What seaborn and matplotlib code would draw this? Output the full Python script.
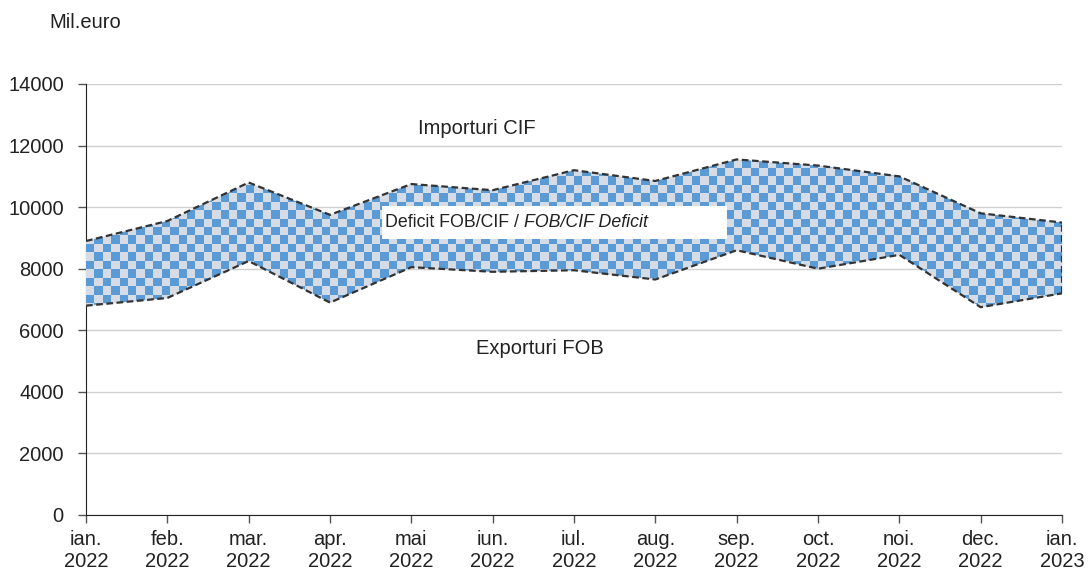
import matplotlib
matplotlib.use("Agg")
import matplotlib.pyplot as plt
import numpy as np
import pandas as pd
import seaborn as sns

months = ["ian.\n2022", "feb.\n2022", "mar.\n2022", "apr.\n2022", "mai\n2022", "iun.\n2022",
          "iul.\n2022", "aug.\n2022", "sep.\n2022", "oct.\n2022", "noi.\n2022", "dec.\n2022",
          "ian.\n2023"]
importuri_cif = [8900, 9550, 10800, 9750, 10750, 10550, 11200, 10850, 11550, 11350, 11000, 9800, 9500]
exporturi_fob = [6800, 7050, 8250, 6900, 8050, 7900, 7950, 7650, 8600, 8000, 8450, 6750, 7200]
y_ticks = [0, 2000, 4000, 6000, 8000, 10000, 12000, 14000]

df = pd.DataFrame({"idx": np.arange(len(months)), "imp": importuri_cif, "exp": exporturi_fob})

sns.set_style("white")
plt.rcParams["font.family"] = ["Liberation Sans", "DejaVu Sans"]

fig = plt.figure(figsize=(10.88, 5.72), dpi=100)
ax = fig.add_axes([86 / 1088, 57 / 572, 976 / 1088, 431 / 572])

# checkered band between exports and imports
band = ax.fill_between(df["idx"], df["exp"], df["imp"], color="#d6dce5", lw=0, zorder=2)
nx, ny = int(976 / 8.4), int(431 / 8.4)
checker = (np.add.outer(np.arange(ny), np.arange(nx)) % 2).astype(float)
cmap = matplotlib.colors.ListedColormap(["#d6dce5", "#5b9bd5"])
img = ax.imshow(checker, cmap=cmap, extent=(0, 12, 0, 14000), aspect="auto",
                interpolation="nearest", origin="upper", zorder=3)
img.set_clip_path(band.get_paths()[0], transform=ax.transData)

sns.lineplot(data=df, x="idx", y="imp", ax=ax, color="#333333", lw=1.6, zorder=4)
sns.lineplot(data=df, x="idx", y="exp", ax=ax, color="#333333", lw=1.6, zorder=4)
for ln in ax.lines:
    ln.set_dashes([3, 1.6])
ax.plot([12, 12], [exporturi_fob[-1], importuri_cif[-1]], color="#333333", lw=1.6,
        dashes=[3, 1.6], zorder=4)

ax.set_xlim(0, 12)
ax.set_ylim(0, 14000)
ax.set_yticks(y_ticks)
ax.set_xticks(range(len(months)))
ax.set_xticklabels(months, fontsize=14.5, color="#222222", linespacing=1.2)
ax.tick_params(axis="y", labelsize=14.5, labelcolor="#222222", length=6, width=1,
               color="#555555", direction="out", left=True, pad=10)
ax.tick_params(axis="x", length=6, width=1, color="#555555", direction="out", bottom=True, pad=5)
ax.grid(axis="y", color="#d0d0d0", lw=1, zorder=0)
ax.set_axisbelow(True)
for s in ["top", "right"]:
    ax.spines[s].set_visible(False)
ax.spines["left"].set_color("#222222")
ax.spines["bottom"].set_color("#222222")
ax.set_xlabel("")
ax.set_ylabel("")

fig.text(49 / 1088, 1 - 22 / 572, "Mil.euro", fontsize=14.5, color="#222222", va="center")
ax.text(4.8, 12550, "Importuri CIF", fontsize=14.5, color="#222222", ha="center", va="center")
ax.text(5.58, 5400, "Exporturi FOB", fontsize=14.5, color="#222222", ha="center", va="center")

# label box for the deficit band
box_x0 = ax.transData.inverted().transform(fig.transFigure.transform((382 / 1088, 0)))[0]
box_x1 = ax.transData.inverted().transform(fig.transFigure.transform((727 / 1088, 0)))[0]
ax.add_patch(plt.Rectangle((box_x0, 8950), box_x1 - box_x0, 1080, facecolor="white",
                           edgecolor="none", zorder=5))
t1 = ax.text(box_x0 + 0.04, 9490, "Deficit FOB/CIF / ", fontsize=12.8,
             family=["Liberation Sans Narrow", "Liberation Sans"], color="#222222",
             va="center", ha="left", zorder=6)
fig.canvas.draw()
bb = t1.get_window_extent()
x_end = ax.transData.inverted().transform((bb.x1, bb.y0))[0]
ax.text(x_end, 9490, "FOB/CIF Deficit", fontsize=12.8, style="italic",
        family=["Liberation Sans Narrow", "Liberation Sans"], color="#222222",
        va="center", ha="left", zorder=6)

fig.savefig("out.png", dpi=100)
